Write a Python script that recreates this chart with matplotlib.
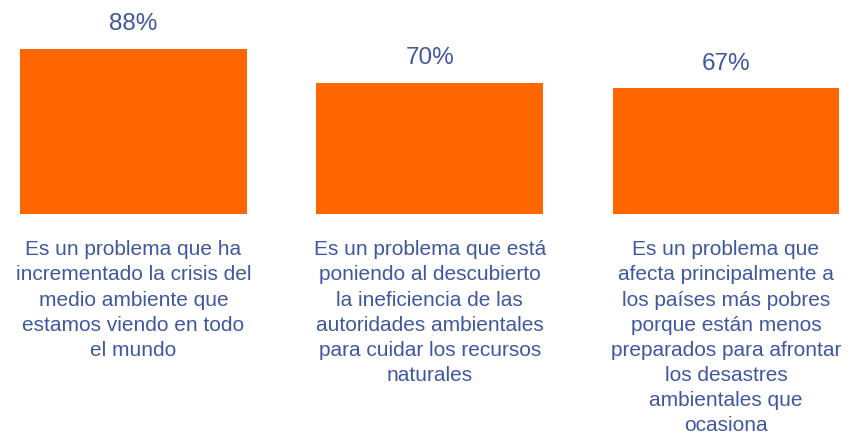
import matplotlib.pyplot as plt

plt.rcParams['font.family'] = ['Liberation Sans', 'DejaVu Sans']

ORANGE = '#FF6600'
TEXT_BLUE = '#3F58A0'

values = [88, 70, 67]
value_labels = ['88%', '70%', '67%']
categories = [
    'Es un problema que ha\nincrementado la crisis del\nmedio ambiente que\nestamos viendo en todo\nel mundo',
    'Es un problema que está\nponiendo al descubierto\nla ineficiencia de las\nautoridades ambientales\npara cuidar los recursos\nnaturales',
    'Es un problema que\nafecta principalmente a\nlos países más pobres\nporque están menos\npreparados para afrontar\nlos desastres\nambientales que\nocasiona',
]

fig = plt.figure(figsize=(8.55, 4.39), dpi=100)
ax = fig.add_axes([0, 0.5103, 1, 0.4897])

x = list(range(len(values)))
ax.bar(x, values, width=0.766, color=ORANGE)

for i, v in enumerate(values):
    ax.text(i, v + 13.8, value_labels[i], ha='center', va='center',
            fontsize=17.5, color=TEXT_BLUE)
    ax.text(i, -13.5, categories[i], ha='center', va='top', fontsize=15,
            color=TEXT_BLUE, linespacing=1.41, clip_on=False)

ax.set_xlim(-0.4506, 2.4355)
ax.set_ylim(0, 114.7)
ax.axis('off')

fig.savefig('out.png', dpi=100)
